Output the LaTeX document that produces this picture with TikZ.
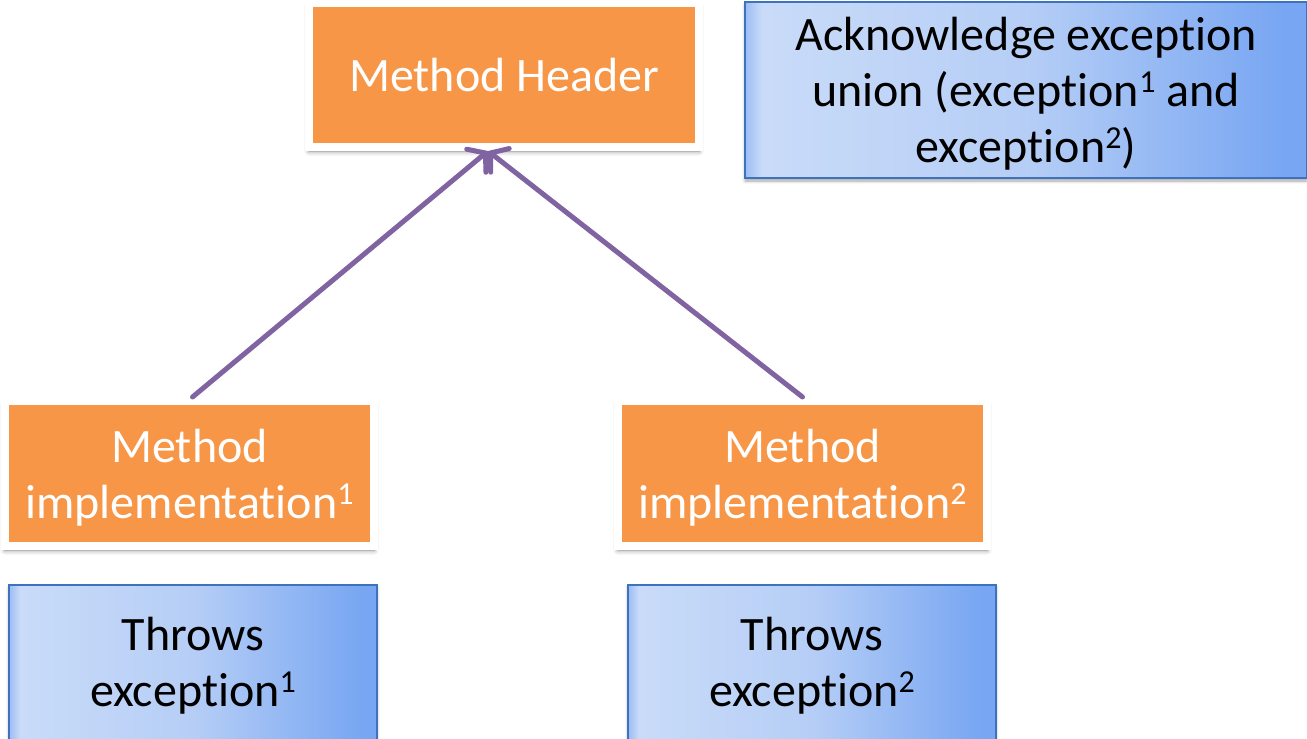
\documentclass[tikz,border=0pt]{standalone}
\usepackage{fontspec}
\setmainfont{Carlito}[Ligatures=NoCommon]
\usetikzlibrary{arrows.meta,shadows.blur}

\definecolor{boxorange}{HTML}{F79646}
\definecolor{linkpurple}{HTML}{8064A2}
\definecolor{blueedge}{HTML}{3D73BE}
\definecolor{blueA}{HTML}{9CBCF3}
\definecolor{blueB}{HTML}{C9DBF8}
\definecolor{blueC}{HTML}{B6CEF6}
\definecolor{blueD}{HTML}{78A6F2}

% light-to-darker blue sweep across the blue boxes (path spans 25bp..75bp)
\pgfdeclarehorizontalshading{bluesweep}{100bp}{%
  color(0bp)=(blueA); color(25bp)=(blueA); color(26.5bp)=(blueB);
  color(50bp)=(blueC); color(73bp)=(blueD); color(100bp)=(blueD)}

% line struts (a taller one for the first line) and a raised superscript
\newcommand\fs{\rule[-12pt]{0pt}{57pt}}
\newcommand\ls{\rule[-12pt]{0pt}{43pt}}
\newcommand\sups[1]{\raisebox{14pt}{\fontsize{32}{32}\selectfont #1}}

\tikzset{
  txt/.style={align=center, font=\fontsize{48}{56}\selectfont},
  orangebox/.style={txt, rectangle, fill=boxorange, draw=white, line width=8pt,
    text=white, inner sep=0pt,
    blur shadow={shadow xshift=0pt, shadow yshift=-4pt, shadow blur radius=5pt, shadow opacity=50}},
  bluebox/.style={txt, rectangle, shading=bluesweep, draw=blueedge, line width=2pt,
    text=black, inner sep=0pt,
    blur shadow={shadow xshift=0pt, shadow yshift=-3pt, shadow blur radius=3pt, shadow opacity=35}},
  link/.style={draw=linkpurple, line width=5pt, line cap=round,
    -{Straight Barb[length=12pt,width=30pt,line cap=round]}},
}

\begin{document}
\begin{tikzpicture}[x=1pt,y=-1pt]
\useasboundingbox (0,0) rectangle (1307,739);

% method boxes
\node[orangebox, minimum width=390pt, minimum height=144pt] (head) at (504,75)
  {\fs Method Header};
\node[orangebox, minimum width=369pt, minimum height=145pt] (impl1) at (189.5,473.5)
  {\fs Method\\\ls implementation\sups{1}};
\node[orangebox, minimum width=369pt, minimum height=145pt] (impl2) at (802.5,473.5)
  {\fs Method\\\ls implementation\sups{2}};

% exception boxes
\node[bluebox, minimum width=368pt, minimum height=155pt] (thr1) at (193,662)
  {\fs Throws\\\ls exception\sups{1}};
\node[bluebox, minimum width=368pt, minimum height=155pt] (thr2) at (812,662)
  {\fs Throws\\\ls exception\sups{2}};
\node[bluebox, minimum width=562pt, minimum height=176pt] (ack) at (1026,90)
  {\fs Acknowledge exception\\\ls union (exception\sups{1} and\\\ls exception\sups{2})};

% connectors from each implementation up to the header
\coordinate (hdtip) at ([xshift=-16pt]head.south);
\draw[link] ([xshift=3pt]impl1.north) -- (hdtip);
\draw[link] (impl2.north) -- (hdtip);
\end{tikzpicture}
\end{document}
